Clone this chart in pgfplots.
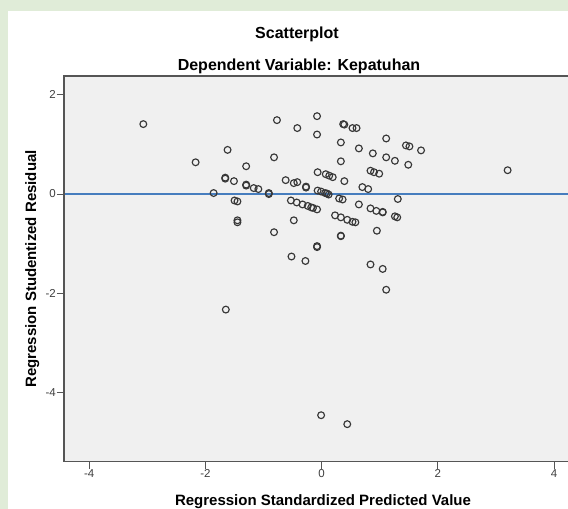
\documentclass[border=0pt]{standalone}
\usepackage{pgfplots}
\pgfplotsset{compat=1.18}
\usepackage{fontspec}
\setmainfont{Liberation Sans}
\definecolor{plotbg}{RGB}{240,240,240}
\definecolor{frame}{RGB}{85,85,85}
\definecolor{refline}{RGB}{70,125,190}
\definecolor{markc}{RGB}{55,55,55}
\definecolor{outer}{RGB}{224,236,216}
\begin{document}
\begin{tikzpicture}[x=1pt,y=1pt]
\useasboundingbox (0,0) rectangle (568,509);
\fill[outer] (0,0) rectangle (568,509);
\fill[white] (8,0) rectangle (568,498);
\begin{axis}[
  name=ax,
  at={(64pt,47.3pt)}, anchor=south west,
  scale only axis,
  width=504pt, height=385.7pt,
  xmin=-4.435, xmax=4.239,
  ymin=-5.397, ymax=2.38,
  axis background/.style={fill=plotbg},
  axis line style={draw=none},
  xtick={-4,-2,0,2,4}, xticklabels={-4,-2,0,2,4},
  ytick={-4,-2,0,2}, yticklabels={-4,-2,0,2},
  xtick pos=left, ytick pos=left,
  tick align=outside,
  major tick length=7pt,
  tick style={draw=frame, line width=1pt},
  ticklabel style={font=\fontsize{11.5}{11.5}\selectfont, text=black!75},
  yticklabel style={inner xsep=1pt},
  xticklabel style={inner ysep=1pt},
  clip=true,
]
\addplot[refline, line width=1.8pt] coordinates {(-4.435,0) (4.239,0)};
\addplot[only marks, mark=o, mark size=3.4pt, mark options={draw=markc, line width=1.15pt}] table {
x y
-3.07 1.41
-0.77 1.49
-0.08 1.57
-0.42 1.33
0.37 1.41
0.39 1.40
0.53 1.33
0.60 1.33
-0.08 1.20
1.11 1.12
0.33 1.04
-1.62 0.89
0.64 0.92
1.45 0.98
1.51 0.96
1.71 0.88
0.88 0.82
-2.17 0.64
-0.82 0.74
1.11 0.74
1.26 0.67
0.33 0.66
-1.30 0.56
1.49 0.59
3.20 0.48
0.84 0.47
0.90 0.44
0.99 0.41
-0.07 0.44
0.07 0.40
0.13 0.37
0.19 0.34
-1.66 0.33
-1.66 0.31
-1.51 0.26
-0.62 0.28
-0.48 0.22
-0.42 0.24
0.39 0.26
-1.30 0.19
-1.30 0.17
-1.17 0.12
-1.09 0.10
-0.27 0.15
-0.27 0.13
0.70 0.14
0.80 0.10
-1.86 0.02
-0.91 0.02
-0.91 0.00
-0.07 0.07
-0.01 0.05
0.06 0.02
0.09 0.01
0.12 -0.01
0.30 -0.09
0.36 -0.11
1.31 -0.10
-1.50 -0.13
-1.45 -0.15
-0.53 -0.13
-0.43 -0.17
-0.33 -0.21
-0.24 -0.24
-0.18 -0.27
-0.15 -0.28
-0.08 -0.31
0.64 -0.21
0.84 -0.29
0.94 -0.34
1.05 -0.37
1.05 -0.36
0.23 -0.43
0.33 -0.47
0.44 -0.52
0.53 -0.56
0.58 -0.57
1.26 -0.45
1.30 -0.47
-1.45 -0.53
-1.45 -0.57
-0.48 -0.53
-0.82 -0.77
0.95 -0.74
0.33 -0.84
0.33 -0.85
-0.08 -1.05
-0.08 -1.07
-0.52 -1.26
-0.28 -1.35
0.84 -1.42
1.05 -1.51
1.11 -1.93
-1.65 -2.33
-0.01 -4.46
0.44 -4.64
};
\end{axis}
\draw[frame, line width=1.3pt] (ax.north east) -- (ax.north west) -- (ax.south west) -- (ax.south east);
\node[anchor=base, font=\fontsize{16}{16}\selectfont\bfseries] at (297,470.7) {Scatterplot};
\node[anchor=base, font=\fontsize{16}{16}\selectfont\bfseries] at (299,438.3) {Dependent Variable: Kepatuhan};
\node[anchor=base, font=\fontsize{15}{15}\selectfont\bfseries] at (323,3) {Regression Standardized Predicted Value};
\node[anchor=base, rotate=90, font=\fontsize{15}{15}\selectfont\bfseries] at (36,240) {Regression Studentized Residual};
\end{tikzpicture}
\end{document}
